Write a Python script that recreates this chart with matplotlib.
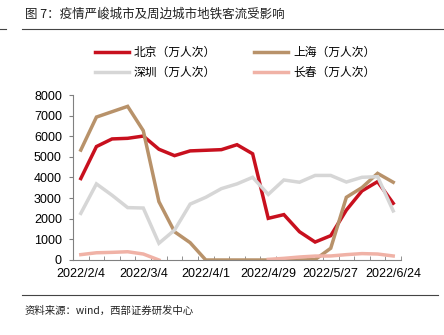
import matplotlib.pyplot as plt
import numpy as np
from matplotlib.lines import Line2D

plt.rcParams['font.family'] = ['Liberation Sans', 'Noto Sans CJK SC', 'DejaVu Sans']

# 每周数据 2022/2/4 - 2022/6/24
dates = ['2022/2/4', '2022/2/11', '2022/2/18', '2022/2/25', '2022/3/4', '2022/3/11',
         '2022/3/18', '2022/3/25', '2022/4/1', '2022/4/8', '2022/4/15', '2022/4/22',
         '2022/4/29', '2022/5/6', '2022/5/13', '2022/5/20', '2022/5/27', '2022/6/3',
         '2022/6/10', '2022/6/17', '2022/6/24']
beijing = [3950, 5500, 5870, 5900, 6010, 5370, 5060, 5290, 5320, 5350, 5590,
           5150, 2020, 2200, 1370, 870, 1180, 2420, 3350, 3800, 2750]
shanghai = [5330, 6930, 7190, 7450, 6270, 2830, 1370, 840, 0, 0, 0,
            0, 0, 0, 0, 20, 570, 3040, 3510, 4200, 3770]
shenzhen = [2260, 3690, 3140, 2540, 2520, 810, 1450, 2710, 3040, 3460, 3690,
            4010, 3180, 3880, 3770, 4100, 4100, 3780, 4010, 4040, 2380]
changchun = [260, 350, 370, 400, 290, 0, np.nan, np.nan, np.nan, np.nan, np.nan,
             np.nan, 30, 80, 145, 190, 195, 260, 310, 290, 195]

labels = ['北京（万人次）', '上海（万人次）', '深圳（万人次）', '长春（万人次）']
colors = ['#C8101E', '#B8926A', '#D6D6D6', '#F0B2A6']

fig = plt.figure(figsize=(4.44, 3.35), dpi=100)
ax = fig.add_axes([0.1644, 0.2239, 0.7388, 0.4925])

x = np.arange(len(dates))
series = [beijing, shanghai, shenzhen, changchun]
for s, c in zip(series, colors):
    ax.plot(x, s, color=c, lw=2.5, solid_joinstyle='miter')

ax.set_xlim(-0.5, len(dates) - 0.5)
ax.set_ylim(0, 8000)
ax.set_yticks(range(0, 8001, 1000))
ax.set_xticks(x[::4])
ax.set_xticklabels([dates[i] for i in x[::4]])
ax.set_xticks(np.arange(-0.5, len(dates), 1), minor=True)
ax.tick_params(axis='x', which='major', length=0, labelsize=9, pad=6)
ax.tick_params(axis='x', which='minor', direction='in', length=3, color='#808080')
ax.tick_params(axis='y', length=3, color='#808080', labelsize=9, pad=5)
for sp in ['top', 'right']:
    ax.spines[sp].set_visible(False)
for sp in ['left', 'bottom']:
    ax.spines[sp].set_color('#808080')
    ax.spines[sp].set_linewidth(0.8)

handles = [Line2D([], [], color=c, lw=2.5) for c in colors]
order = [0, 2, 1, 3]
fig.legend([handles[i] for i in order], [labels[i] for i in order], ncol=2,
           loc='upper left', bbox_to_anchor=(0.19, 0.895), frameon=False,
           prop={'family': 'Noto Sans CJK SC', 'size': 8.5},
           handlelength=2.9, columnspacing=3.2, labelspacing=0.6, handletextpad=0.4)

fig.text(25 / 444, 1 - 14 / 335, '图 7：疫情严峻城市及周边城市地铁客流受影响',
         family='Noto Sans CJK SC', fontsize=9, va='center', ha='left', color='#222222')
fig.add_artist(Line2D([22 / 444, 1], [1 - 28.5 / 335] * 2, color='#444444', lw=0.8))
fig.add_artist(Line2D([0, 6 / 444], [1 - 28.5 / 335] * 2, color='#444444', lw=0.8))
fig.add_artist(Line2D([22 / 444, 438 / 444], [1 - 295 / 335] * 2, color='#444444', lw=0.8))
fig.text(25 / 444, 1 - 311 / 335, '资料来源：wind，西部证券研发中心',
         family='Noto Sans CJK SC', fontsize=7.5, va='center', ha='left', color='#222222')

fig.savefig('out.png', dpi=100)
